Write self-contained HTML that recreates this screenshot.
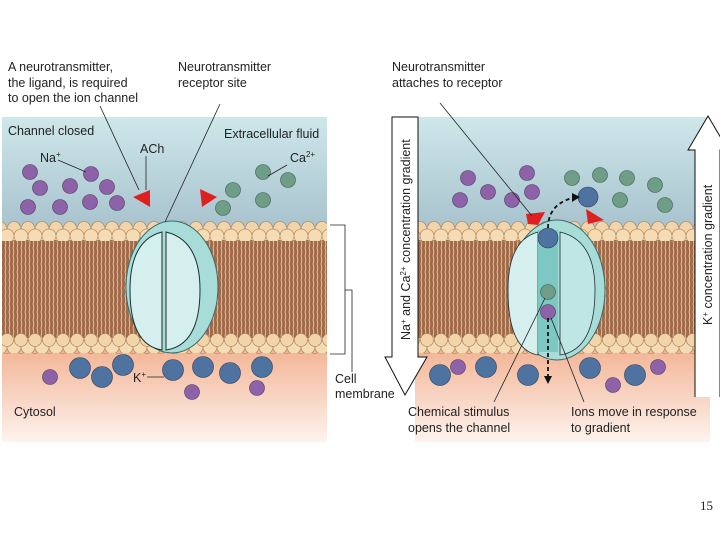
<!DOCTYPE html>
<html><head><meta charset="utf-8"><style>
body{margin:0;background:#fff}
svg{display:block}
text{font-family:"Liberation Sans",sans-serif;font-size:12.5px;fill:#222}
</style></head><body>
<svg width="720" height="540" viewBox="0 0 720 540" xmlns="http://www.w3.org/2000/svg">
<defs>
<linearGradient id="ext" x1="0" y1="0" x2="0" y2="1">
<stop offset="0" stop-color="#cde7ea"/><stop offset="1" stop-color="#a9c3cf"/></linearGradient>
<linearGradient id="cyt" x1="0" y1="0" x2="0" y2="1">
<stop offset="0" stop-color="#f3b596"/><stop offset="1" stop-color="#fdf3ee"/></linearGradient>
<pattern id="tails" width="4" height="8" patternUnits="userSpaceOnUse">
<rect width="4" height="8" fill="#a06a48"/><path d="M1 0 Q2.5 4 1 8" stroke="#e6c9a5" stroke-width="0.9" fill="none"/></pattern>
<pattern id="heads" width="14" height="20" patternUnits="userSpaceOnUse" x="0" y="221">
<circle cx="0" cy="7" r="6.5" fill="#f3d3a8" stroke="#a07850" stroke-width="0.6"/>
<circle cx="14" cy="7" r="6.5" fill="#f3d3a8" stroke="#a07850" stroke-width="0.6"/>
<circle cx="7" cy="15" r="7" fill="#f6dcb5" stroke="#a07850" stroke-width="0.6"/>
</pattern>
<pattern id="headsb" width="14" height="20" patternUnits="userSpaceOnUse" x="0" y="333">
<circle cx="0" cy="14" r="7" fill="#f6dcb5" stroke="#a07850" stroke-width="0.6"/>
<circle cx="14" cy="14" r="7" fill="#f6dcb5" stroke="#a07850" stroke-width="0.6"/>
<circle cx="7" cy="7" r="6.5" fill="#f3d3a8" stroke="#a07850" stroke-width="0.6"/>
</pattern>
</defs>

<!-- LEFT PANEL -->
<rect x="2" y="117" width="325" height="110" fill="url(#ext)"/>
<rect x="2" y="350" width="325" height="92" fill="url(#cyt)"/>
<rect x="2" y="240" width="325" height="98" fill="url(#tails)"/>
<rect x="2" y="221" width="325" height="21" fill="url(#heads)"/>
<rect x="2" y="333" width="325" height="21" fill="url(#headsb)"/>
<!-- channel left -->
<ellipse cx="172" cy="287" rx="46" ry="66" fill="#a8dcd8" stroke="#3a6a6a" stroke-width="1"/>
<path d="M162 232 Q130 240 130 290 Q130 345 162 350 Z" fill="#d5eeee" stroke="#1a3030" stroke-width="1"/>
<path d="M166 232 Q200 240 200 290 Q200 345 166 350 Z" fill="#d5eeee" stroke="#1a3030" stroke-width="1"/>

<g stroke="#4a3a5a" stroke-width="0.6" fill="#8e62a8">
<circle cx="30" cy="172" r="7.5"/><circle cx="40" cy="188" r="7.5"/><circle cx="70" cy="186" r="7.5"/><circle cx="91" cy="174" r="7.5"/><circle cx="107" cy="187" r="7.5"/><circle cx="28" cy="207" r="7.5"/><circle cx="60" cy="207" r="7.5"/><circle cx="90" cy="202" r="7.5"/><circle cx="117" cy="203" r="7.5"/>
<circle cx="50" cy="377" r="7.5"/><circle cx="192" cy="392" r="7.5"/><circle cx="257" cy="388" r="7.5"/>
</g>
<g stroke="#3a5a4a" stroke-width="0.6" fill="#6f9e88">
<circle cx="263" cy="172" r="7.5"/><circle cx="288" cy="180" r="7.5"/><circle cx="233" cy="190" r="7.5"/><circle cx="263" cy="200" r="7.5"/><circle cx="223" cy="208" r="7.5"/>
</g>
<g stroke="#2a3a5a" stroke-width="0.6" fill="#4f73a0">
<circle cx="80" cy="368" r="10.5"/><circle cx="102" cy="377" r="10.5"/><circle cx="123" cy="365" r="10.5"/><circle cx="173" cy="370" r="10.5"/><circle cx="203" cy="367" r="10.5"/><circle cx="230" cy="373" r="10.5"/><circle cx="262" cy="367" r="10.5"/>
</g>
<polygon points="133,197 150,190 150,207" fill="#e02020"/>
<polygon points="200,189 217,197 202,207" fill="#e02020"/>

<g stroke="#222" stroke-width="0.8" fill="none">
<line x1="100" y1="106" x2="139" y2="190"/>
<line x1="220" y1="104" x2="165" y2="222"/>
<line x1="146" y1="156" x2="146" y2="190"/>
<line x1="58" y1="160" x2="86" y2="172"/>
<line x1="287" y1="165" x2="268" y2="176"/>
<line x1="147" y1="377" x2="164" y2="377"/>
<path d="M330 225 H345 V354 H330 M345 290 H352 V372"/>
</g>

<text x="8" y="71">A neurotransmitter,</text>
<text x="8" y="87">the ligand, is required</text>
<text x="8" y="102">to open the ion channel</text>
<text x="178" y="71">Neurotransmitter</text>
<text x="178" y="87">receptor site</text>
<text x="392" y="71">Neurotransmitter</text>
<text x="392" y="87">attaches to receptor</text>
<text x="8" y="135">Channel closed</text>
<text x="224" y="138">Extracellular fluid</text>
<text x="40" y="162">Na<tspan dy="-5" font-size="8">+</tspan></text>
<text x="140" y="153">ACh</text>
<text x="290" y="162">Ca<tspan dy="-5" font-size="8">2+</tspan></text>
<text x="133" y="382">K<tspan dy="-5" font-size="8">+</tspan></text>
<text x="14" y="416">Cytosol</text>
<text x="335" y="383">Cell</text>
<text x="335" y="398">membrane</text>

<!-- RIGHT PANEL -->
<rect x="415" y="117" width="295" height="110" fill="url(#ext)"/>
<rect x="415" y="350" width="295" height="92" fill="url(#cyt)"/>
<rect x="418" y="240" width="282" height="98" fill="url(#tails)"/>
<rect x="418" y="221" width="282" height="21" fill="url(#heads)"/>
<rect x="418" y="333" width="282" height="21" fill="url(#headsb)"/>
<ellipse cx="557" cy="290" rx="48" ry="70" fill="#a8dcd8" stroke="#3a6a6a" stroke-width="1"/>
<path d="M538 232 Q508 240 508 290 Q508 350 538 355 Z" fill="#d5eeee" stroke="#1a3030" stroke-width="0.8"/>
<rect x="538" y="230" width="20" height="122" fill="#7ec8c4"/>
<path d="M560 232 Q595 240 595 290 Q595 350 560 355 Z" fill="#bfe5e5" stroke="#1a3030" stroke-width="0.8"/>

<g stroke="#4a3a5a" stroke-width="0.6" fill="#8e62a8">
<circle cx="468" cy="178" r="7.5"/><circle cx="488" cy="192" r="7.5"/><circle cx="527" cy="173" r="7.5"/><circle cx="532" cy="192" r="7.5"/><circle cx="512" cy="200" r="7.5"/><circle cx="460" cy="200" r="7.5"/>
<circle cx="548" cy="312" r="7.5"/>
<circle cx="458" cy="367" r="7.5"/><circle cx="658" cy="367" r="7.5"/><circle cx="613" cy="385" r="7.5"/>
</g>
<g stroke="#3a5a4a" stroke-width="0.6" fill="#6f9e88">
<circle cx="572" cy="178" r="7.5"/><circle cx="600" cy="175" r="7.5"/><circle cx="627" cy="178" r="7.5"/><circle cx="655" cy="185" r="7.5"/><circle cx="620" cy="200" r="7.5"/><circle cx="665" cy="205" r="7.5"/>
<circle cx="548" cy="292" r="7.5"/>
</g>
<g stroke="#2a3a5a" stroke-width="0.6" fill="#4f73a0">
<circle cx="588" cy="197" r="10"/><circle cx="548" cy="238" r="10"/>
<circle cx="440" cy="375" r="10.5"/><circle cx="486" cy="367" r="10.5"/><circle cx="528" cy="375" r="10.5"/><circle cx="590" cy="368" r="10.5"/><circle cx="635" cy="375" r="10.5"/>
</g>
<polygon points="526,214 545,212 538,225 528,224" fill="#e02020"/>
<polygon points="586,209 604,220 588,224" fill="#e02020"/>
<g stroke="#111" stroke-width="1.8" fill="none" stroke-dasharray="4,3">
<path d="M548 228 Q548 205 572 198"/>
<line x1="548" y1="318" x2="548" y2="376"/>
</g>
<polygon points="572,193 580,197 572,202" fill="#111"/>
<polygon points="544,376 552,376 548,384" fill="#111"/>

<g stroke="#222" stroke-width="0.8" fill="none">
<line x1="440" y1="103" x2="532" y2="216"/>
<line x1="494" y1="402" x2="545" y2="298"/>
<line x1="584" y1="402" x2="551" y2="318"/>
</g>

<!-- gradient arrows -->
<path d="M392 117 H418 V357 H427 L405 395 L385 357 H392 Z" fill="#fff" stroke="#111" stroke-width="1"/>
<path d="M695 397 V150 H688 L708 116 L728 150 H720 V397" fill="#fff" stroke="#111" stroke-width="1"/>
<text transform="translate(410,340) rotate(-90)" font-size="12">Na<tspan dy="-4" font-size="8">+</tspan><tspan dy="4"> and Ca</tspan><tspan dy="-4" font-size="8">2+</tspan><tspan dy="4"> concentration gradient</tspan></text>
<text transform="translate(712,325) rotate(-90)" font-size="12">K<tspan dy="-4" font-size="8">+</tspan><tspan dy="4"> concentration gradient</tspan></text>

<text x="408" y="416">Chemical stimulus</text>
<text x="408" y="432">opens the channel</text>
<text x="571" y="416">Ions move in response</text>
<text x="571" y="432">to gradient</text>

<text x="700" y="510" style="font-family:'Liberation Serif',serif;font-size:13px">15</text>
</svg>
</body></html>
